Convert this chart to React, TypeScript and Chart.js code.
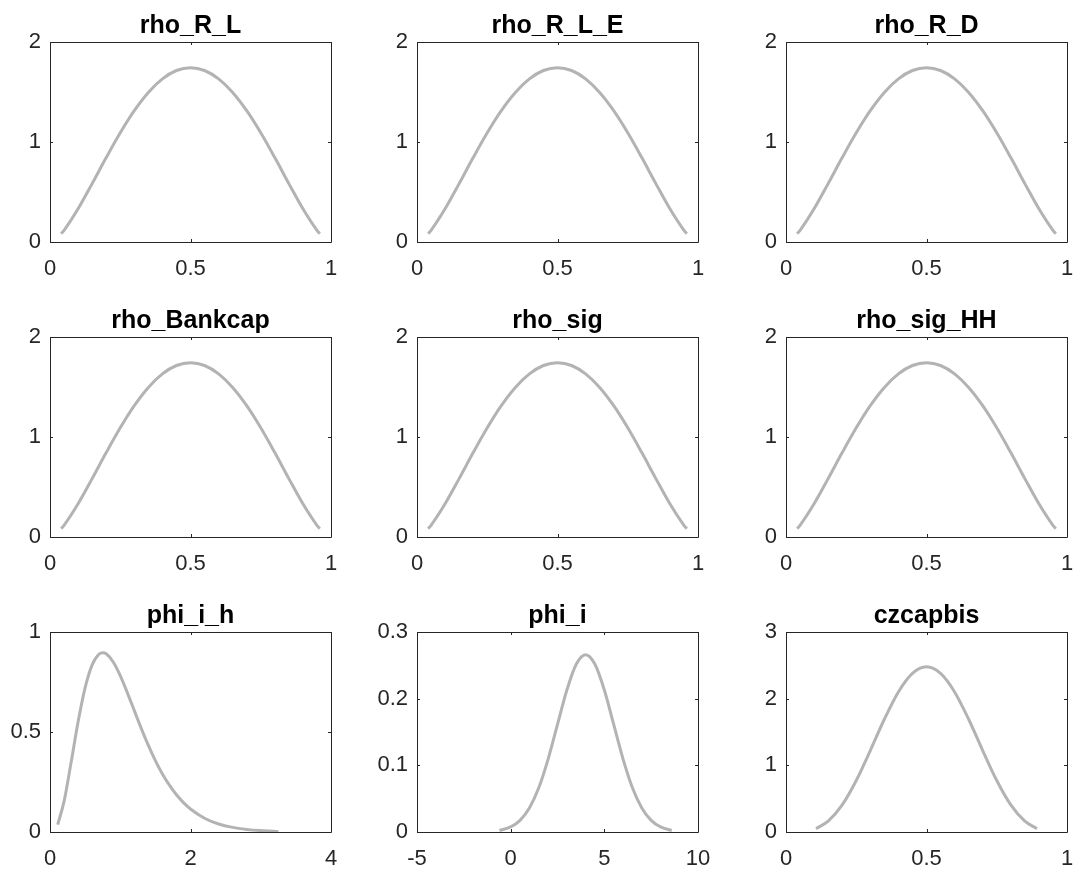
import React, { useEffect, useRef } from "react";
import { Chart, registerables } from "chart.js";

Chart.register(...registerables);

// ---------- data ----------
const panelTitles = [
  "rho_R_L",
  "rho_R_L_E",
  "rho_R_D",
  "rho_Bankcap",
  "rho_sig",
  "rho_sig_HH",
  "phi_i_h",
  "phi_i",
  "czcapbis",
];

// rho_* priors (all six look identical)
const rhoX = [0.04, 0.05, 0.1, 0.15, 0.2, 0.25, 0.3, 0.35, 0.4, 0.45, 0.5, 0.55, 0.6, 0.65, 0.7, 0.75, 0.8, 0.85, 0.9, 0.95, 0.96];
const rhoY = [0.083, 0.117, 0.332, 0.584, 0.844, 1.092, 1.313, 1.495, 1.631, 1.715, 1.743, 1.715, 1.631, 1.495, 1.313, 1.092, 0.844, 0.584, 0.332, 0.117, 0.083];

// phi_i_h
const phiIhX = [0.11, 0.2, 0.3, 0.4, 0.5, 0.6, 0.7, 0.75, 0.8, 0.9, 1.0, 1.1, 1.2, 1.3, 1.4, 1.5, 1.6, 1.7, 1.8, 1.9, 2.0, 2.2, 2.4, 2.6, 2.8, 3.0, 3.25];
const phiIhY = [0.037, 0.153, 0.347, 0.551, 0.722, 0.836, 0.890, 0.896, 0.891, 0.850, 0.782, 0.697, 0.607, 0.517, 0.433, 0.357, 0.290, 0.234, 0.186, 0.147, 0.115, 0.069, 0.040, 0.023, 0.013, 0.007, 0.003];

// phi_i
const phiIX = [-0.6, -0.5, 0, 0.5, 1, 1.5, 2, 2.5, 3, 3.5, 4, 4.5, 5, 5.5, 6, 6.5, 7, 7.5, 8, 8.5, 8.6];
const phiIY = [0.0024, 0.003, 0.0076, 0.0175, 0.036, 0.0663, 0.1094, 0.1613, 0.213, 0.2516, 0.266, 0.2516, 0.213, 0.1613, 0.1094, 0.0663, 0.036, 0.0175, 0.0076, 0.003, 0.0024];

// czcapbis
const czX = [0.107, 0.15, 0.2, 0.25, 0.3, 0.35, 0.4, 0.45, 0.5, 0.55, 0.6, 0.65, 0.7, 0.75, 0.8, 0.85, 0.893];
const czY = [0.05, 0.162, 0.406, 0.772, 1.222, 1.691, 2.101, 2.379, 2.477, 2.379, 2.101, 1.691, 1.222, 0.772, 0.406, 0.162, 0.05];

// tick values / labels
const unitXTicks = [0, 0.5, 1];
const unitXLabels = ["0", "0.5", "1"];
const rhoYTicks = [0, 1, 2];
const rhoYLabels = ["0", "1", "2"];
const phiIhXTicks = [0, 2, 4];
const phiIhXLabels = ["0", "2", "4"];
const phiIhYTicks = [0, 0.5, 1];
const phiIhYLabels = ["0", "0.5", "1"];
const phiIXTicks = [-5, 0, 5, 10];
const phiIXLabels = ["-5", "0", "5", "10"];
const phiIYTicks = [0, 0.1, 0.2, 0.3];
const phiIYLabels = ["0", "0.1", "0.2", "0.3"];
const czYTicks = [0, 1, 2, 3];
const czYLabels = ["0", "1", "2", "3"];

// ---------- layout ----------
const FONT = "'Liberation Sans', Arial, Helvetica, sans-serif";
const colLefts = [50, 417, 786];
const rowTops = [42, 337, 632];
const PW = 281;
const PH = 200;
const ML = 50;
const MT = 42;
const MR = 16;
const MB = 41;

type PanelCfg = {
  title: string;
  xs: number[];
  ys: number[];
  xTicks: number[];
  xLabels: string[];
  yTicks: number[];
  yLabels: string[];
};

const rhoPanel = (title: string): PanelCfg => ({
  title,
  xs: rhoX,
  ys: rhoY,
  xTicks: unitXTicks,
  xLabels: unitXLabels,
  yTicks: rhoYTicks,
  yLabels: rhoYLabels,
});

const panels: PanelCfg[] = [
  rhoPanel(panelTitles[0]),
  rhoPanel(panelTitles[1]),
  rhoPanel(panelTitles[2]),
  rhoPanel(panelTitles[3]),
  rhoPanel(panelTitles[4]),
  rhoPanel(panelTitles[5]),
  { title: panelTitles[6], xs: phiIhX, ys: phiIhY, xTicks: phiIhXTicks, xLabels: phiIhXLabels, yTicks: phiIhYTicks, yLabels: phiIhYLabels },
  { title: panelTitles[7], xs: phiIX, ys: phiIY, xTicks: phiIXTicks, xLabels: phiIXLabels, yTicks: phiIYTicks, yLabels: phiIYLabels },
  { title: panelTitles[8], xs: czX, ys: czY, xTicks: unitXTicks, xLabels: unitXLabels, yTicks: czYTicks, yLabels: czYLabels },
];

function Panel({ cfg, left, top }: { cfg: PanelCfg; left: number; top: number }) {
  const ref = useRef<HTMLCanvasElement | null>(null);
  useEffect(() => {
    if (!ref.current) return;
    const boxPlugin = {
      id: "matlabBox",
      afterDatasetsDraw(chart: any) {
        const { ctx, chartArea } = chart;
        const { left: l, right: r, top: t, bottom: b } = chartArea;
        ctx.save();
        ctx.strokeStyle = "#262626";
        ctx.lineWidth = 1;
        ctx.beginPath();
        ctx.rect(Math.round(l) + 0.5, Math.round(t) + 0.5, Math.round(r - l), Math.round(b - t));
        ctx.stroke();
        const TL = 3;
        const xs = chart.scales.x;
        const ys = chart.scales.y;
        ctx.beginPath();
        cfg.xTicks.forEach((v) => {
          const px = Math.round(xs.getPixelForValue(v)) + 0.5;
          ctx.moveTo(px, b);
          ctx.lineTo(px, b - TL);
          ctx.moveTo(px, t);
          ctx.lineTo(px, t + TL);
        });
        cfg.yTicks.forEach((v) => {
          const py = Math.round(ys.getPixelForValue(v)) + 0.5;
          ctx.moveTo(l, py);
          ctx.lineTo(l + TL, py);
          ctx.moveTo(r, py);
          ctx.lineTo(r - TL, py);
        });
        ctx.stroke();
        ctx.fillStyle = "#000000";
        ctx.font = `bold 25px ${FONT}`;
        ctx.textAlign = "center";
        ctx.textBaseline = "alphabetic";
        ctx.fillText(cfg.title, (l + r) / 2, t - 9);
        ctx.restore();
      },
    };
    const chart = new Chart(ref.current, {
      type: "line",
      data: {
        datasets: [
          {
            data: cfg.xs.map((x, i) => ({ x, y: cfg.ys[i] })),
            borderColor: "#b3b3b3",
            borderWidth: 3,
            pointRadius: 0,
            fill: false,
            cubicInterpolationMode: "monotone",
            borderCapStyle: "butt",
          } as any,
        ],
      },
      options: {
        animation: false,
        responsive: false,
        devicePixelRatio: 1,
        layout: { padding: { top: MT, right: MR, left: 0, bottom: 0 } },
        plugins: {
          legend: { display: false },
          tooltip: { enabled: false },
          title: { display: false },
        },
        scales: {
          x: {
            type: "linear",
            min: cfg.xTicks[0],
            max: cfg.xTicks[cfg.xTicks.length - 1],
            grid: { display: false, drawTicks: false, tickLength: 0 },
            border: { display: false },
            afterBuildTicks: (s: any) => {
              s.ticks = cfg.xTicks.map((v) => ({ value: v }));
            },
            afterFit: (s: any) => {
              s.height = MB;
              s.paddingLeft = 0;
              s.paddingRight = 0;
            },
            ticks: {
              autoSkip: false,
              maxRotation: 0,
              minRotation: 0,
              padding: 14,
              color: "#262626",
              font: { family: FONT, size: 22 },
              callback: (v: any) => cfg.xLabels[cfg.xTicks.indexOf(Number(v))] ?? "",
            },
          } as any,
          y: {
            type: "linear",
            min: cfg.yTicks[0],
            max: cfg.yTicks[cfg.yTicks.length - 1],
            grid: { display: false, drawTicks: false, tickLength: 0 },
            border: { display: false },
            afterBuildTicks: (s: any) => {
              s.ticks = cfg.yTicks.map((v) => ({ value: v }));
            },
            afterFit: (s: any) => {
              s.width = ML;
              s.paddingTop = 0;
              s.paddingBottom = 0;
            },
            ticks: {
              autoSkip: false,
              padding: 9,
              color: "#262626",
              font: { family: FONT, size: 22 },
              callback: (v: any) => cfg.yLabels[cfg.yTicks.indexOf(Number(v))] ?? "",
            },
          } as any,
        },
      },
      plugins: [boxPlugin],
    });
    return () => chart.destroy();
  }, [cfg]);
  return (
    <canvas
      ref={ref}
      width={ML + PW + MR}
      height={MT + PH + MB}
      style={{ position: "absolute", left, top, display: "block" }}
    />
  );
}

export default function App() {
  return (
    <div
      style={{
        position: "fixed",
        left: 0,
        top: 0,
        width: 1076,
        height: 876,
        background: "#ffffff",
        overflow: "hidden",
      }}
    >
      {panels.map((p, i) => (
        <Panel
          key={i}
          cfg={p}
          left={colLefts[i % 3] - ML}
          top={rowTops[Math.floor(i / 3)] - MT}
        />
      ))}
    </div>
  );
}
